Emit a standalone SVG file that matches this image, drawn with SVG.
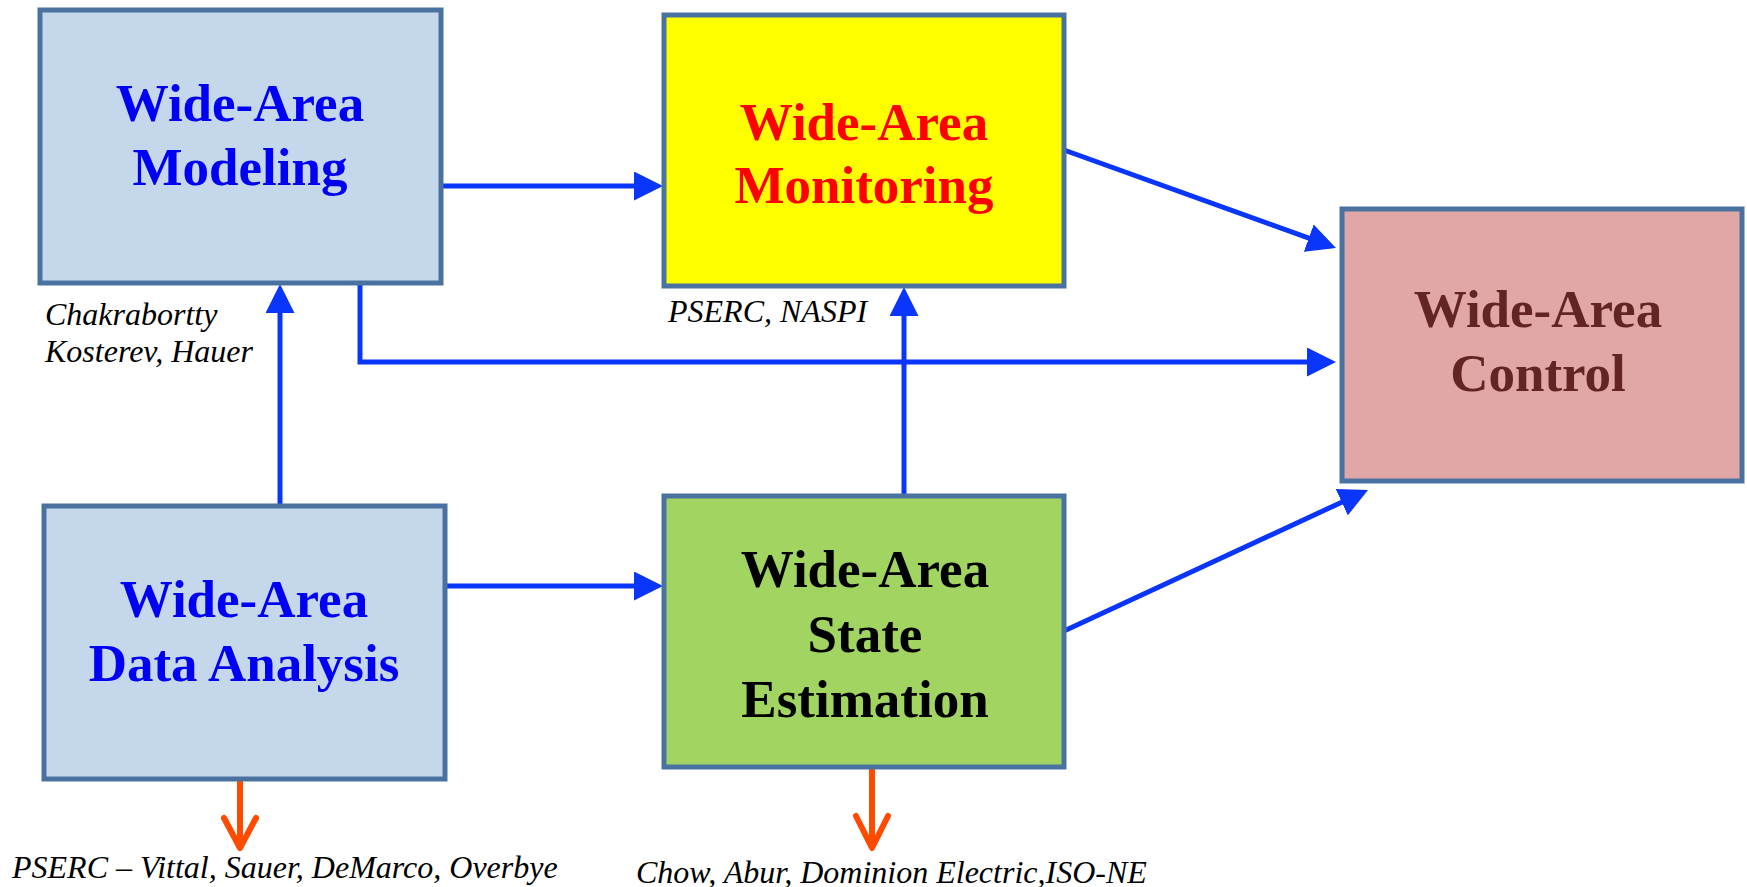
<svg xmlns="http://www.w3.org/2000/svg" width="1747" height="887" viewBox="0 0 1747 887">
  <style>
    .box { stroke: #4A72A0; stroke-width: 5; }
    .title { font-family: "Liberation Serif", "Times New Roman", serif; font-weight: bold; font-size: 53px; text-anchor: middle; }
    .note { font-family: "Liberation Serif", "Times New Roman", serif; font-style: italic; font-size: 32px; fill: #000; }
    .link { stroke: #0A35FA; stroke-width: 5; fill: none; marker-end: url(#tri); }
    .out { stroke: #FF4A00; stroke-width: 6; fill: none; stroke-linecap: round; stroke-linejoin: round; }
  </style>
  <defs>
    <marker id="tri" markerUnits="userSpaceOnUse" markerWidth="29" markerHeight="29" refX="9" refY="14.5" orient="auto">
      <path d="M0,0 L29,14.5 L0,29 z" fill="#0A35FA"/>
    </marker>
  </defs>
  <rect width="1747" height="887" fill="#FFFFFF"/>

  <!-- connectors -->
  <g id="connectors">
    <line class="link" x1="442" y1="186" x2="643" y2="186"/>
    <line class="link" x1="446" y1="586" x2="643" y2="586"/>
    <line class="link" x1="280" y1="504" x2="280" y2="304"/>
    <line class="link" x1="904" y1="494" x2="904" y2="307"/>
    <path class="link" d="M360,284 V362 H1316"/>
    <line class="link" x1="1064" y1="150" x2="1317.2" y2="241.2"/>
    <line class="link" x1="1064" y1="631" x2="1349.9" y2="498.4"/>
    <line class="out" x1="240" y1="780" x2="240" y2="846"/>
    <polyline class="out" points="224,818 240,848 256,818"/>
    <line class="out" x1="872" y1="768" x2="872" y2="846"/>
    <polyline class="out" points="856,816 872,848 888,816"/>
  </g>

  <!-- nodes -->
  <g id="modeling">
    <rect class="box" x="40" y="10" width="401" height="273" fill="#C5D8EB"/>
    <text class="title" x="240" y="121" fill="#0000F5">Wide-Area</text>
    <text class="title" x="240" y="185" fill="#0000F5">Modeling</text>
  </g>
  <g id="monitoring">
    <rect class="box" x="664" y="15" width="400" height="271" fill="#FFFF00"/>
    <text class="title" x="864" y="140" fill="#FF0000">Wide-Area</text>
    <text class="title" x="864" y="203" fill="#FF0000">Monitoring</text>
  </g>
  <g id="control">
    <rect class="box" x="1342" y="209" width="400" height="272" fill="#E1A7A6"/>
    <text class="title" x="1538" y="327" fill="#632523">Wide-Area</text>
    <text class="title" x="1538" y="391" fill="#632523">Control</text>
  </g>
  <g id="data-analysis">
    <rect class="box" x="44" y="506" width="401" height="273" fill="#C5D8EB"/>
    <text class="title" x="244" y="617" fill="#0000F5">Wide-Area</text>
    <text class="title" x="244" y="681" fill="#0000F5">Data Analysis</text>
  </g>
  <g id="state-estimation">
    <rect class="box" x="664" y="496" width="400" height="271" fill="#A2D462"/>
    <text class="title" x="865" y="587" fill="#000000">Wide-Area</text>
    <text class="title" x="865" y="652" fill="#000000">State</text>
    <text class="title" x="865" y="717" fill="#000000">Estimation</text>
  </g>

  <!-- contributor notes -->
  <g id="notes">
    <text class="note" x="45" y="325">Chakrabortty</text>
    <text class="note" x="45" y="362">Kosterev, Hauer</text>
    <text class="note" x="668" y="322">PSERC, NASPI</text>
    <text class="note" x="12" y="878">PSERC – Vittal, Sauer, DeMarco, Overbye</text>
    <text class="note" x="636" y="883">Chow, Abur, Dominion Electric,ISO-NE</text>
  </g>
</svg>
